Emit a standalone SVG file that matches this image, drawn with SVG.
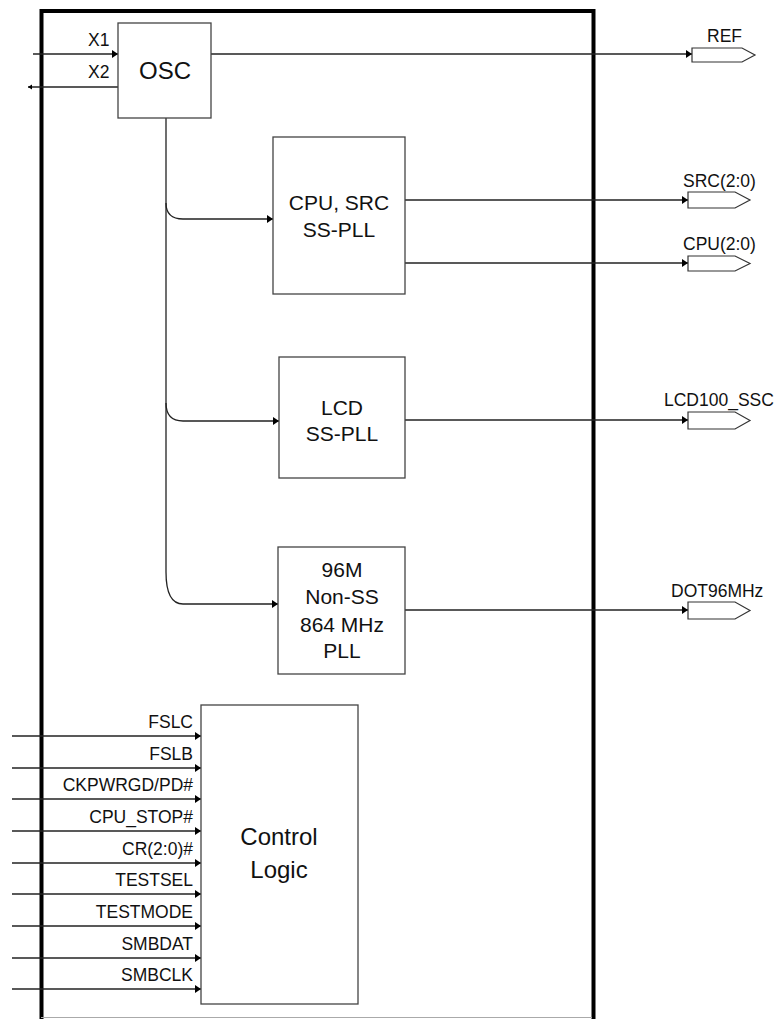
<svg xmlns="http://www.w3.org/2000/svg" width="774" height="1019" viewBox="0 0 774 1019">
<style>
.frame{fill:none;stroke:#000;stroke-width:4}
.box{fill:#fff;stroke:#444;stroke-width:1.3}
.ln{fill:none;stroke:#222;stroke-width:1.3}
.pin{fill:#fff;stroke:#333;stroke-width:1.2}
text{font-family:"Liberation Sans",Arial,sans-serif;fill:#111}
.big{font-size:21px;text-anchor:middle}
.huge{font-size:24px;text-anchor:middle}
.lbl{font-size:17.5px}
.in{font-size:17.5px;text-anchor:end}
</style>
<defs>
<marker id="ah" markerUnits="userSpaceOnUse" markerWidth="8" markerHeight="10" refX="7" refY="5" orient="auto">
<path d="M1,1 L7,5 L1,9 Z" fill="#000"/>
</marker>
<marker id="ahs" markerUnits="userSpaceOnUse" markerWidth="6" markerHeight="8" refX="5" refY="4" orient="auto">
<path d="M1,1.5 L5,4 L1,6.5 Z" fill="#000"/>
</marker>
</defs>
<rect width="774" height="1019" fill="#fff"/>
<g id="frame">
<path class="frame" d="M41.5,1019 V11 H593.5 V1019"/>
<line x1="41" y1="1017.5" x2="592" y2="1017.5" stroke="#aaa" stroke-width="1.2"/>
</g>
<g id="connectors">
<line class="ln" x1="33" y1="54" x2="118" y2="54" marker-end="url(#ah)"/>
<line class="ln" x1="118" y1="87" x2="28" y2="87" marker-end="url(#ahs)"/>
<line class="ln" x1="211" y1="54" x2="692" y2="54" marker-end="url(#ah)"/>
<path class="ln" d="M166,118 V572 Q166,604 183,604 H278" marker-end="url(#ah)"/>
<path class="ln" d="M166,203 Q166,219 183,219 H273" marker-end="url(#ah)"/>
<path class="ln" d="M166,403 Q166,421 183,421 H279" marker-end="url(#ah)"/>
<line class="ln" x1="405" y1="200" x2="688" y2="200" marker-end="url(#ah)"/>
<line class="ln" x1="405" y1="263" x2="688" y2="263" marker-end="url(#ah)"/>
<line class="ln" x1="405" y1="420" x2="688" y2="420" marker-end="url(#ah)"/>
<line class="ln" x1="405" y1="610" x2="688" y2="610" marker-end="url(#ah)"/>
<line class="ln" x1="12" y1="736" x2="201" y2="736" marker-end="url(#ah)"/>
<line class="ln" x1="12" y1="768" x2="201" y2="768" marker-end="url(#ah)"/>
<line class="ln" x1="12" y1="799" x2="201" y2="799" marker-end="url(#ah)"/>
<line class="ln" x1="12" y1="831" x2="201" y2="831" marker-end="url(#ah)"/>
<line class="ln" x1="12" y1="863" x2="201" y2="863" marker-end="url(#ah)"/>
<line class="ln" x1="12" y1="894" x2="201" y2="894" marker-end="url(#ah)"/>
<line class="ln" x1="12" y1="926" x2="201" y2="926" marker-end="url(#ah)"/>
<line class="ln" x1="12" y1="958" x2="201" y2="958" marker-end="url(#ah)"/>
<line class="ln" x1="12" y1="989" x2="201" y2="989" marker-end="url(#ah)"/>
</g>
<g id="osc">
<rect class="box" x="118" y="23" width="93" height="95"/>
<text class="huge" x="165" y="79">OSC</text>
<text class="lbl" x="88" y="46">X1</text>
<text class="lbl" x="88" y="78">X2</text>
</g>
<g id="cpu-src-pll">
<rect class="box" x="273" y="137" width="132" height="157"/>
<text class="big" x="339" y="210">CPU, SRC</text>
<text class="big" x="339" y="237">SS-PLL</text>
</g>
<g id="lcd-pll">
<rect class="box" x="279" y="357" width="126" height="121"/>
<text class="big" x="342" y="415">LCD</text>
<text class="big" x="342" y="441">SS-PLL</text>
</g>
<g id="pll96">
<rect class="box" x="278" y="547" width="127" height="127"/>
<text class="big" x="342" y="577">96M</text>
<text class="big" x="342" y="604">Non-SS</text>
<text class="big" x="342" y="632">864 MHz</text>
<text class="big" x="342" y="658">PLL</text>
</g>
<g id="control-logic">
<rect class="box" x="201" y="705" width="157" height="299"/>
<text class="huge" x="279" y="845">Control</text>
<text class="huge" x="279" y="878">Logic</text>
</g>
<g id="inputs">
<text class="in" x="193" y="728">FSLC</text>
<text class="in" x="193" y="760">FSLB</text>
<text class="in" x="193" y="791">CKPWRGD/PD#</text>
<text class="in" x="193" y="823">CPU_STOP#</text>
<text class="in" x="193" y="855">CR(2:0)#</text>
<text class="in" x="193" y="886">TESTSEL</text>
<text class="in" x="193" y="918">TESTMODE</text>
<text class="in" x="193" y="950">SMBDAT</text>
<text class="in" x="193" y="981">SMBCLK</text>
</g>
<g id="ref">
<path class="pin" d="M692,48 H742 L755,55 L742,62 H692 Z"/>
<text class="lbl" x="707" y="42">REF</text>
</g>
<g id="src">
<path class="pin" d="M688,192 H735 L750,200 L735,208 H688 Z"/>
<text class="lbl" x="683" y="187">SRC(2:0)</text>
</g>
<g id="cpu">
<path class="pin" d="M688,256 H735 L750,263.5 L735,271 H688 Z"/>
<text class="lbl" x="683" y="250">CPU(2:0)</text>
</g>
<g id="lcd100">
<path class="pin" d="M688,412 H735 L750,420.5 L735,429 H688 Z"/>
<text class="lbl" x="664" y="406">LCD100_SSC</text>
</g>
<g id="dot96">
<path class="pin" d="M688,602 H735 L750,610.5 L735,619 H688 Z"/>
<text class="lbl" x="671" y="597">DOT96MHz</text>
</g>
</svg>
